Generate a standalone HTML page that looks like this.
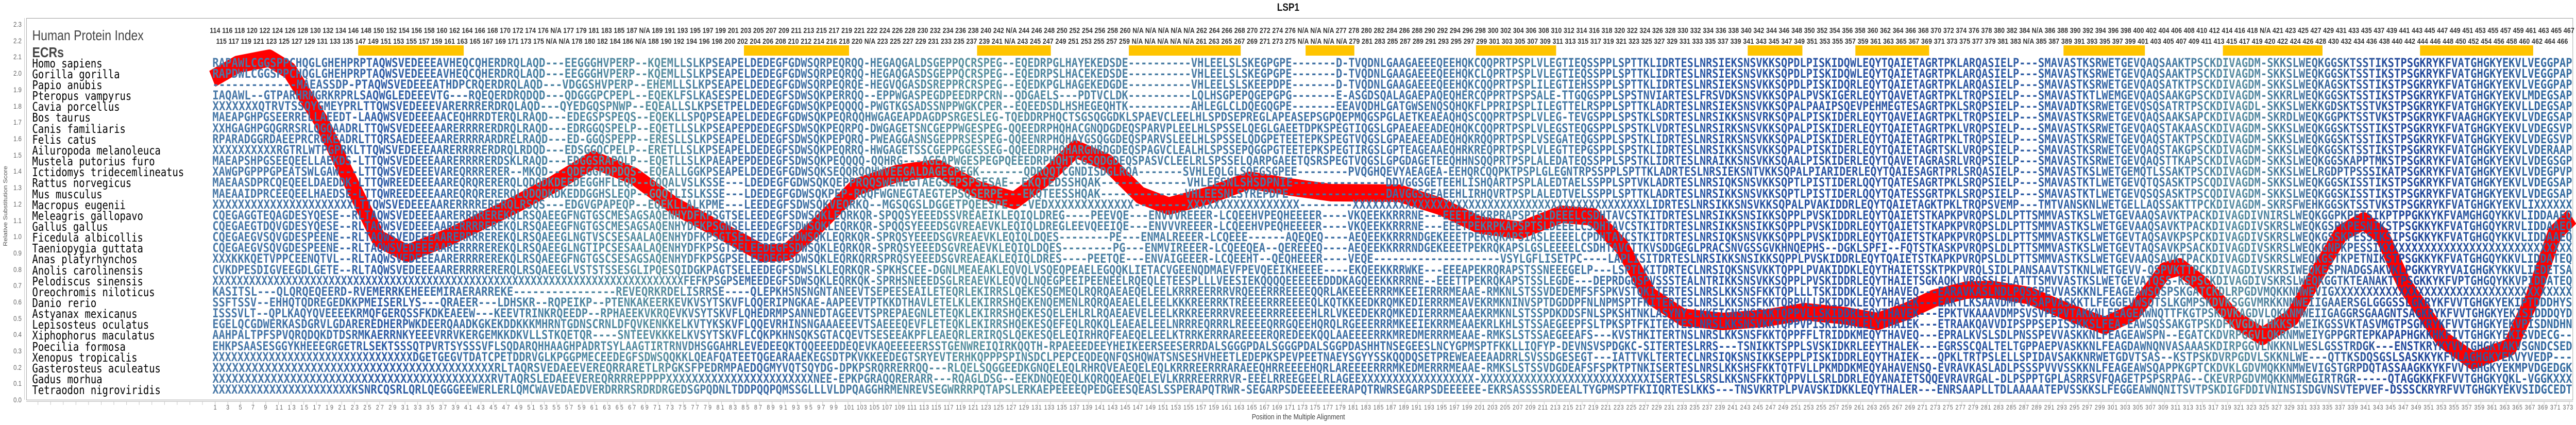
<!DOCTYPE html>
<html><head><meta charset="utf-8"><style>
html,body{margin:0;padding:0;background:#fff;width:100%;height:100%;overflow:hidden;}
svg{display:block;position:absolute;left:0;top:0;width:100%;height:100%;}
</style></head><body>
<svg viewBox="0 0 6077 825" preserveAspectRatio="none" xmlns="http://www.w3.org/2000/svg">
<defs>
<linearGradient id="g" gradientUnits="userSpaceOnUse" x1="501" y1="0" x2="6068" y2="0">
<stop offset="0" stop-color="#4a7aa8"/><stop offset="0.054" stop-color="#3d6da8"/><stop offset="0.072" stop-color="#2f5ca6"/><stop offset="0.14" stop-color="#4a82a3"/><stop offset="0.19" stop-color="#5a90a0"/><stop offset="0.23" stop-color="#3a68a6"/><stop offset="0.32" stop-color="#5a92a0"/><stop offset="0.38" stop-color="#4c80a3"/><stop offset="0.5" stop-color="#3e6ea6"/><stop offset="0.56" stop-color="#4a80a4"/><stop offset="0.63" stop-color="#2b58a5"/><stop offset="0.72" stop-color="#2a52a2"/><stop offset="0.8" stop-color="#3566a6"/><stop offset="0.86" stop-color="#5a8fa2"/><stop offset="0.93" stop-color="#23479c"/><stop offset="1" stop-color="#3870a2"/>
</linearGradient>
<pattern id="xt" x="507" y="0" width="29.86" height="10" patternUnits="userSpaceOnUse"><rect x="0" y="0" width="1" height="6" fill="#bbb"/></pattern>
</defs>
<rect x="0" y="0" width="6077" height="825" fill="#fff"/>
<text x="3039" y="21" text-anchor="middle" font-family="Liberation Sans Narrow, Liberation Sans, sans-serif" font-weight="bold" font-size="21" fill="#111">LSP1</text>
<rect x="62.5" y="35.5" width="6007" height="741" fill="none" stroke="#999" stroke-width="1"/>
<line x1="58" y1="35" x2="58" y2="776" stroke="#bbb" stroke-width="1"/>
<line x1="62" y1="779.5" x2="6070" y2="779.5" stroke="#bbb" stroke-width="1"/>
<rect x="62" y="780" width="6008" height="6" fill="url(#xt)"/>
<g font-family="Liberation Sans Narrow, Liberation Sans, sans-serif" font-size="14" fill="#666" text-anchor="end">
<text x="51" y="52">2.3</text><text x="51" y="84">2.2</text><text x="51" y="115">2.1</text><text x="51" y="147">2.0</text><text x="51" y="179">1.9</text><text x="51" y="211">1.8</text><text x="51" y="242">1.7</text><text x="51" y="274">1.6</text><text x="51" y="306">1.5</text><text x="51" y="337">1.4</text><text x="51" y="369">1.3</text><text x="51" y="401">1.2</text><text x="51" y="433">1.1</text><text x="51" y="464">1.0</text><text x="51" y="496">0.9</text><text x="51" y="528">0.8</text><text x="51" y="559">0.7</text><text x="51" y="591">0.6</text><text x="51" y="623">0.5</text><text x="51" y="654">0.4</text><text x="51" y="686">0.3</text><text x="51" y="718">0.2</text><text x="51" y="749">0.1</text><text x="51" y="781">0.0</text>
</g>
<text transform="translate(17,400) rotate(-90)" text-anchor="middle" font-family="Liberation Sans Narrow, Liberation Sans, sans-serif" font-size="13" fill="#555">Relative Substitution Score</text>
<text x="3063" y="814" text-anchor="middle" font-family="Liberation Sans Narrow, Liberation Sans, sans-serif" font-size="15" fill="#444">Position in the Multiple Alignment</text>
<g fill="#ffc400">
<rect x="845" y="88" width="249" height="20"/><rect x="1755" y="88" width="248" height="20"/><rect x="2305" y="88" width="174" height="20"/><rect x="2663" y="88" width="264" height="20"/><rect x="3080" y="88" width="115" height="20"/><rect x="3482" y="88" width="189" height="20"/><rect x="4123" y="88" width="129" height="20"/><rect x="4377" y="88" width="174" height="20"/><rect x="4868" y="88" width="192" height="20"/><rect x="5244" y="88" width="235" height="20"/><rect x="5709" y="88" width="267" height="20"/>
</g>
<g font-family="Liberation Sans Narrow, Liberation Sans, sans-serif" font-weight="bold" font-size="15" fill="#333">
<text x="495" y="64" textLength="5578" lengthAdjust="spacing">114 116 118 120 122 124 126 128 130 132 134 146 148 150 152 154 156 158 160 162 164 166 168 170 172 174 176 N/A 177 179 181 183 185 187 N/A 189 191 193 195 197 199 201 203 205 207 209 211 213 215 217 219 221 222 224 226 228 230 232 234 236 238 240 242 N/A 244 246 248 250 252 254 256 258 260 N/A N/A N/A N/A N/A 262 264 266 268 270 272 274 276 N/A N/A N/A 277 278 280 282 284 286 288 290 292 294 296 298 300 302 304 306 308 310 312 314 316 318 320 322 324 326 328 330 332 334 336 338 340 342 344 346 348 350 352 354 356 358 360 362 364 366 368 370 372 374 376 378 380 382 384 N/A 386 388 390 392 394 396 398 400 402 404 406 408 410 412 414 416 418 N/A 421 423 425 427 429 431 433 435 437 439 441 443 445 447 449 451 453 455 457 459 461 463 465 467</text>
<text x="510" y="85" textLength="5548" lengthAdjust="spacing">115 117 119 121 123 125 127 129 131 133 135 147 149 151 153 155 157 159 161 163 165 167 169 171 173 175 N/A N/A 178 180 182 184 186 N/A 188 190 192 194 196 198 200 202 204 206 208 210 212 214 216 218 220 N/A 223 225 227 229 231 233 235 237 239 241 N/A 243 245 247 249 251 253 255 257 259 N/A N/A N/A N/A N/A 261 263 265 267 269 271 273 275 N/A N/A N/A N/A 279 281 283 285 287 289 291 293 295 297 299 301 303 305 307 309 311 313 315 317 319 321 323 325 327 329 331 333 335 337 339 341 343 345 347 349 351 353 355 357 359 361 363 365 367 369 371 373 375 377 379 381 383 N/A 385 387 389 391 393 395 397 399 401 403 405 407 409 411 413 415 417 419 420 422 424 426 428 430 432 434 436 438 440 442 444 446 448 450 452 454 456 458 460 462 464 466</text>
</g>
<g font-family="Liberation Sans Narrow, Liberation Sans, sans-serif" font-size="13" fill="#666">
<text x="504" y="795" textLength="126" lengthAdjust="spacing">1 3 5 7 9</text>
<text x="650" y="795" textLength="1326" lengthAdjust="spacing">11 13 15 17 19 21 23 25 27 29 31 33 35 37 39 41 43 45 47 49 51 53 55 57 59 61 63 65 67 69 71 73 75 77 79 81 83 85 87 89 91 93 95 97 99</text>
<text x="1991" y="795" textLength="4079" lengthAdjust="spacing">101 103 105 107 109 111 113 115 117 119 121 123 125 127 129 131 133 135 137 139 141 143 145 147 149 151 153 155 157 159 161 163 165 167 169 171 173 175 177 179 181 183 185 187 189 191 193 195 197 199 201 203 205 207 209 211 213 215 217 219 221 223 225 227 229 231 233 235 237 239 241 243 245 247 249 251 253 255 257 259 261 263 265 267 269 271 273 275 277 279 281 283 285 287 289 291 293 295 297 299 301 303 305 307 309 311 313 315 317 319 321 323 325 327 329 331 333 335 337 339 341 343 345 347 349 351 353 355 357 359 361 363 365 367 369 371 373</text>
</g>
<text x="76" y="78" font-family="Liberation Sans Narrow, Liberation Sans, sans-serif" font-size="28" fill="#444">Human Protein Index</text>
<text x="76" y="111" font-family="Liberation Sans Narrow, Liberation Sans, sans-serif" font-size="28" font-weight="bold" fill="#444">ECRs</text>
<polyline fill="none" stroke="#ff0000" stroke-width="34" stroke-linejoin="round" points="501,153 560,125 635,113 683,137 759,237 836,368 893,463 960,492 1065,458 1209,400 1305,358 1400,310 1496,342 1592,400 1688,442 1800,492 1857,489 1924,442 2020,363 2116,337 2211,326 2307,368 2393,389 2470,342 2537,289 2613,316 2690,379 2757,400 2853,379 2948,350 3044,363 3140,374 3300,375 3396,400 3491,437 3587,447 3683,416 3759,421 3826,479 3893,574 3970,616 4065,624 4161,618 4257,605 4353,613 4429,624 4496,605 4563,579 4640,563 4700,562 4788,574 4877,605 4965,632 5036,605 5107,526 5142,518 5196,553 5275,621 5337,653 5408,616 5470,526 5523,453 5576,429 5620,458 5673,553 5762,658 5833,700 5921,674 5974,579 6027,453 6067,421"/>
<g font-family="DejaVu Sans Mono, Liberation Mono, monospace" font-size="22.9" fill="#000">
<text x="76" y="131">Homo sapiens</text><text x="76" y="152">Gorilla gorilla</text><text x="76" y="173">Papio anubis</text><text x="76" y="194">Pteropus vampyrus</text><text x="76" y="215">Cavia porcellus</text><text x="76" y="236">Bos taurus</text><text x="76" y="258">Canis familiaris</text><text x="76" y="279">Felis catus</text><text x="76" y="300">Ailuropoda melanoleuca</text><text x="76" y="321">Mustela putorius furo</text><text x="76" y="342">Ictidomys tridecemlineatus</text><text x="76" y="363">Rattus norvegicus</text><text x="76" y="385">Mus musculus</text><text x="76" y="406">Macropus eugenii</text><text x="76" y="427">Meleagris gallopavo</text><text x="76" y="448">Gallus gallus</text><text x="76" y="469">Ficedula albicollis</text><text x="76" y="490">Taeniopygia guttata</text><text x="76" y="511">Anas platyrhynchos</text><text x="76" y="533">Anolis carolinensis</text><text x="76" y="554">Pelodiscus sinensis</text><text x="76" y="575">Oreochromis niloticus</text><text x="76" y="596">Danio rerio</text><text x="76" y="617">Astyanax mexicanus</text><text x="76" y="638">Lepisosteus oculatus</text><text x="76" y="659">Xiphophorus maculatus</text><text x="76" y="681">Poecilia formosa</text><text x="76" y="702">Xenopus tropicalis</text><text x="76" y="723">Gasterosteus aculeatus</text><text x="76" y="744">Gadus morhua</text><text x="76" y="765">Tetraodon nigroviridis</text>
</g>
<g font-family="DejaVu Sans Mono, Liberation Mono, monospace" font-weight="bold" font-size="24" fill="url(#g)">
<text x="501" y="130" textLength="1299" lengthAdjust="spacingAndGlyphs">RAPAWLCGGSPPCHQGLGHEHPRPTAQWSVEDEEEAVHEQCQHERDRQLAQD---EEGGGHVPERP--KQEMLLSLKPSEAPELDE</text>
<text x="1800" y="130" textLength="1500" lengthAdjust="spacingAndGlyphs">DEGFGDWSQRPEQRQQ-HEGAQGALDSGEPPQCRSPEG--EQEDRPGLHAYEKEDSDE----------VHLEELSLSKEGPGPE-------D-TVQDNLGA</text>
<text x="3300" y="130" textLength="1493" lengthAdjust="spacingAndGlyphs">AGAEEEQEEHQKCQQPRTPSPLVLEGTIEQSSPPLSPTTKLIDRTESLNRSIEKSNSVKKSQPDLPISKIDQWLEQYTQAIETAGRTPKLARQASIELP--</text>
<text x="4793" y="130" textLength="1275" lengthAdjust="spacingAndGlyphs">-SMAVASTKSRWETGEVQAQSAAKTPSCKDIVAGDM-SKKSLWEQKGGSKTSSTIKSTPSGKRYKFVATGHGKYEKVLVEGGPAP</text>
<text x="501" y="151" textLength="1299" lengthAdjust="spacingAndGlyphs">RAPDWLCGGSPPCHQGLGHEHPRPTAQWSVEDEEEAVHEQCQHERDRQLAQD---EEGGGHVPERP--KQEMLLSLKPSEAPELDE</text>
<text x="1800" y="151" textLength="1500" lengthAdjust="spacingAndGlyphs">DEGFGDWSQRPEQRQQ-HEGAQGASDSGEPPQCRSPEG--EQEDRPSLHACEKEDSDE----------VHLEELSLSKEGPGPE-------D-TVQDNLGA</text>
<text x="3300" y="151" textLength="1493" lengthAdjust="spacingAndGlyphs">AGAEEEQEEHQKCLQPRTPSPLVLEGTIEQSSPPLSPTTKLIDRTESLNRSIEKSNSVKKSQPDLPISKIDQWLEQYTQAIETAGRTPKLARQASIELP--</text>
<text x="4793" y="151" textLength="1275" lengthAdjust="spacingAndGlyphs">-SMAVASTKSRWETGEVQAQSAAKTPSCKDIVAGDM-SKKSLWEQKGGSKTSSTIKSTPSGKRYKFVATGHGKYEKVLVEGGPAP</text>
<text x="501" y="172" textLength="1299" lengthAdjust="spacingAndGlyphs">-------------MAEASSDP-PTAQWSVEDEEEATHDPCRQERDRQLAQD---VDGGSHVPERP--EHEMLLSLKPSEAPELDE</text>
<text x="1800" y="172" textLength="1500" lengthAdjust="spacingAndGlyphs">DEGFGDWSQRPEQRQE-HEGVQGASDSREPPRCRSPEG--EQEDKPGLHAGEKEDGDE----------VHLEELSLSKEEPDPE-------D-TVQDNLGA</text>
<text x="3300" y="172" textLength="1493" lengthAdjust="spacingAndGlyphs">AGAEEEQEEHQKCQQPRTPSPLILEGTIEHSSPPLSPTTKLIDRTESLNRSIEKSNSVKKSQPDLPISKIDQRLEQYTQAIETAGRTPKLARQASIELP--</text>
<text x="4793" y="172" textLength="1275" lengthAdjust="spacingAndGlyphs">-SMAVASTKSRWETGEVQAQSATKTPSCKDIVAGDM-SKKSLWEQKAGSKTSSTIKSTPSGKRYKFVATGHGKYEKVLVEGGPAP</text>
<text x="501" y="193" textLength="1299" lengthAdjust="spacingAndGlyphs">IAQAWL--GTPARHRMGRKRPRLSAQWGLEDEEEVTG---RQEQERDRQDQD---QDGGGPCPEPL--EQEKLFSLKASESPELDE</text>
<text x="1800" y="193" textLength="1500" lengthAdjust="spacingAndGlyphs">DEGFSDWSQKPERRQQ--EPPWGASPEGDPEEDRPCRN--QDGAELS---PDTVCLDK----------LQLHSGPEPQGEPGPG-------E-ASGDSQAL</text>
<text x="3300" y="193" textLength="1493" lengthAdjust="spacingAndGlyphs">AGAEPAQEQHERCQPPRTPSPSALE-TTGQGSPPLSPSTNVIARTESLFRSVDKSNSVKKSQPALPVSKIGERLEQYTQAVETAGRTPKLTRQPSIELP--</text>
<text x="4793" y="193" textLength="1275" lengthAdjust="spacingAndGlyphs">-SMAVASTKTLWEMGEVQAQSAAKGPSCKDIVAGDM-SKKRLWEQKGGSKTSSTIKSTPSGKRYKFVATGHGKYEKVLMDEGSAP</text>
<text x="501" y="214" textLength="1299" lengthAdjust="spacingAndGlyphs">XXXXXXXQTRVTSSQYGMEYPRLTTQWSVEDEEEVARERRRERDRQLAQD---QYEDGQSPNWP--EQEALLSLKPSETPELDE</text>
<text x="1800" y="214" textLength="1500" lengthAdjust="spacingAndGlyphs">DEGFGDWSQKPEQQQQ-PWGTKGSADSSNPPWGKCPER--EQEEDSDLHSHEGEQHTK----------AHLEGLCLDQEGQGPE-------EEAVQDHLGA</text>
<text x="3300" y="214" textLength="1493" lengthAdjust="spacingAndGlyphs">TGWSENQSQHQKFLPPRIPSPLILEGTTELRSPPLSPTTKLADRTESLNRSIEKSNSVKKSQPALPAAIPSQEVPEHMEGTESAGRTPKLSRQPSIELP--</text>
<text x="4793" y="214" textLength="1275" lengthAdjust="spacingAndGlyphs">-SMAVADTKSRWETGEVQSQSATRTPSCKDIVAGDL-SKKSLWEKKGDSKTSSTVKSTPSGKRYKFVATGHGKYEKVLLDEGSAP</text>
<text x="501" y="235" textLength="1299" lengthAdjust="spacingAndGlyphs">MAEAPGHPGSEERRELLAEEDT-LAAQWSVEDEEEAACEQHRRDTERQLRAQD---EDEGSPSPEQS--EQEKLLSPQPSEAPELDE</text>
<text x="1800" y="235" textLength="1500" lengthAdjust="spacingAndGlyphs">DEGFGDWSQKPEQRQQHWGAGEAPDAGDPSRGESLEG-TQEDDRPHQCTSGSQGGDKLSPAEVCLEELHLSPDSEPREGLAPEASEPSGPQEPMQGSPGL</text>
<text x="3300" y="235" textLength="1493" lengthAdjust="spacingAndGlyphs">AETKEAEAQHQSCQQPRTPSPLVLEG-TEVGSPPLSPSTKLSDRTESLNRSIKKSNSVRKSQPALPISKIDERLEQYTQAVEIAGRTPKLTRQPSIELP--</text>
<text x="4793" y="235" textLength="1275" lengthAdjust="spacingAndGlyphs">-SMAVASTKSRWETGEVQAQSAAKSAPCKDIVAGDM-SKRDLWEQKGGPKTSSTVKSTPSGKRYKFVAAGHGKYEKVLVDEGSAP</text>
<text x="501" y="257" textLength="1299" lengthAdjust="spacingAndGlyphs">XXHGAGHPGQGRRSRLQGQAADRLTTQWSVEDEEEAARERRRRERDRQLRAQD---EDRGGQSPELP--EQETLLSLKPSEAPEPDE</text>
<text x="1800" y="257" textLength="1500" lengthAdjust="spacingAndGlyphs">DEGFSDWSQKPEQRPQ-DWGAGETSNCGEPPWGESPEG-QQEEDRPHQHACGNQDGDEQSPARVPLEELHLSPSSELQEGLGAEETDPKSPEGTIQGSLGP</text>
<text x="3300" y="257" textLength="1493" lengthAdjust="spacingAndGlyphs">AEAEEADEQHQKCQQPRTPSPLVLEGSTEQGSPPLSPSTKLVDRTESLNRSIRKSNSVKKSQPALPISKIDERLEQYTQAIETAGRTPKLVRQPSIELP--</text>
<text x="4793" y="257" textLength="1275" lengthAdjust="spacingAndGlyphs">-SMAVASTKSRWETGEVQAQSTAKAASCKDIVAGDM-SKKSLWEQKGGSKTSSTIKSTPSGKRYKFVATGHGKYEKVLVDEGSVP</text>
<text x="501" y="278" textLength="1299" lengthAdjust="spacingAndGlyphs">RPARADGGRDAEEPRCRGKEADRLTTQRSAEDEEEAARERRRRARDRELRAQD---ED-GGQSPEPP--ERESLLSLKPSEAPELDE</text>
<text x="1800" y="278" textLength="1500" lengthAdjust="spacingAndGlyphs">DEGFSDWSQKPEPQRQ-PWEAGGASNSGEPPRSESPEG-QQEENRPHQHAYGSQGGDEQSPARVSLEELHLSPSSELQDGPETEETEPKSPEGTVQGSLGP</text>
<text x="3300" y="278" textLength="1493" lengthAdjust="spacingAndGlyphs">AEAEEADEQHQKRQQPRTPSPLVSEGATEQGSPPLSPSTKLIDRTESLNRSIRKSNSVKKSQPALPISKIDERLEQYTQAIETAGRTPKLTRQPSIELP--</text>
<text x="4793" y="278" textLength="1275" lengthAdjust="spacingAndGlyphs">-SMAVASTKSRWETGEVQAQSTAKTPSCKDIVAGDM-SKKSLWEQKGGSKTSSTIKSTPSGKRYKFVATGHGKYEKVLVDEGSVP</text>
<text x="501" y="299" textLength="1299" lengthAdjust="spacingAndGlyphs">XXXXXXXXXXRGTRLWTPGPRKLTTQWSVEDEEEAARERRRRERDRQLRDQD---EDSGGQCPELP--ERETLLSLKPSEAPELDE</text>
<text x="1800" y="299" textLength="1500" lengthAdjust="spacingAndGlyphs">DEGFSDWSQKPEQRRQ-HWGAGETSSCGEPPGGESSEG-QQEEDRPHQHARGNRDGDEQSPAGVCLEALHLSPSSEPQGGPGTEETEPKSPEGTIRGSLGP</text>
<text x="3300" y="299" textLength="1493" lengthAdjust="spacingAndGlyphs">TEAGEAAEQHRKREQPRTPSPLVLEGTTEPGSPPLSPSTKLIDRTESLNRSIKKSNSVKKSQPALPISKIDERLEQYTQAIETAGRTSKLVRQPSIELP--</text>
<text x="4793" y="299" textLength="1275" lengthAdjust="spacingAndGlyphs">-SMAVASTKSRWETGEVQAQSTAKGPSCKDIVAGDM-SKKSLWEQKGGSKTSSTIKSTPSGKRYKFVATGHGKYEKVLVDERAAP</text>
<text x="501" y="320" textLength="1299" lengthAdjust="spacingAndGlyphs">MAEAPSHPGSEEQEELLAEKDS-LTTQWSVEDEEEAARERRRRERDSKLRAQD---EDGGSRAPQLP--EQETLLSLKPAEAPEPDE</text>
<text x="1800" y="320" textLength="1500" lengthAdjust="spacingAndGlyphs">DEGFSDWSQKPEQQQQ-QQHRG---AGEAPWGESPEGPQEEEDRPHQHTCGSQDGDEQSPASVCLEELRLSPSSELQARPGAEETQSRSPEGTVQGSLGP</text>
<text x="3300" y="320" textLength="1493" lengthAdjust="spacingAndGlyphs">GDAGETEEQHHNSQQPRTPSPLALEDATEQSSPPLSPSTKLIDRTESLNRAIKKSNSVKKSQAALPISKIDERLEQYTQAVETAGRASRLVRQPSIELP--</text>
<text x="4793" y="320" textLength="1275" lengthAdjust="spacingAndGlyphs">-SMAVASTKSRWETGEVQAQSTTKAPSCKDIVAGDM-SKKSLWEQKGGSKAPPTMKSTPSGKRYKFVATGHGKYEKVLVDEGSGP</text>
<text x="501" y="341" textLength="1299" lengthAdjust="spacingAndGlyphs">XAWGPGPPPGPEATSWLGAW---LTTQWSVEDEEEVAREQRRRERER--MKQD---QDEGGPDPDQS--EQEALLGGKPSEAPELDE</text>
<text x="1800" y="341" textLength="1500" lengthAdjust="spacingAndGlyphs">DEGFGDWSQKSEQQRQQHWVEEGALDAGEGPEGK-------QDRQQTCGNDISDGLRQA-------SVHLEQLGLSQEGSGPEE--------PVQGHQEV</text>
<text x="3300" y="341" textLength="1493" lengthAdjust="spacingAndGlyphs">YAEAGEA-EEHQRCQQPKTPSPLGLEGNTRPSSPPLSPTTKLADRTESLNRSIEKSNTVKKSQPALPIARIDERLEQYTQAIESAGRTPRLSRQASIELP--</text>
<text x="4793" y="341" textLength="1275" lengthAdjust="spacingAndGlyphs">-SMAVASTKSLWETGEMQTLSSAKTPSCKDIVAGDM-SKKSLWELRGDPTPSSSIKATPSGKRYKFVATGHGKYEKVLVDEGPVP</text>
<text x="501" y="362" textLength="1299" lengthAdjust="spacingAndGlyphs">MAEAASDPRCQEQEELDAEDDK-LTTQWREEDEEEAAREQRQRERERQLQDQDKDEEDEGGHFLEQP--GQQALVSLKSSE---LDE</text>
<text x="1800" y="362" textLength="1500" lengthAdjust="spacingAndGlyphs">DEGFGDWSQKQEPPRQQSWENEGTAEGSEPSPSESAE--EKQTEDSSHQAK-------------VHLEESNLSHSDPNIE--------------DD</text>
<text x="3300" y="362" textLength="1493" lengthAdjust="spacingAndGlyphs">VGGSGETEEHLISHQARTPSPLALEDTAELSSPPLSPTVKLADRTESLNRSIQKSNSVKKSQPTLPISTIDERLQQYTQATESAGRTPKLSRQPSIELP--</text>
<text x="4793" y="362" textLength="1275" lengthAdjust="spacingAndGlyphs">-SMAVASTKTLWETGEVQTQSASKTPSCQDIVAGDM-SKKSLWEQKGGSKISSTIKSTPSGKRYKFVATGHGKYEKVLVDEGSAP</text>
<text x="501" y="384" textLength="1299" lengthAdjust="spacingAndGlyphs">MAEAAIDPRCEEQEELHAEDSE-LTTQWREEDEEEAAREQRQRERERQLQDQDKDKEDDGGHSLEQP--GQQTLISLKSSE---LDE</text>
<text x="1800" y="384" textLength="1500" lengthAdjust="spacingAndGlyphs">DEGFGDWSQKPEP-RQQFWGNEGTAEGTEPSQSERPE---EKQTEESSHQAK-------------VHLEESNLSYREPDPE---------------DA</text>
<text x="3300" y="384" textLength="1493" lengthAdjust="spacingAndGlyphs">VGGSGEAEEHLIRHQVRTPSPLALEDTVELSSPPLSPTTKLADRTESLNRSIKKSNSVKKSQPTLPISTIDERLQQYTQATESSGRTPKLSRQPSIELP--</text>
<text x="4793" y="384" textLength="1275" lengthAdjust="spacingAndGlyphs">-SMAVASTKTLWETGEVQSQSASKTPSCQDIVAGDM-SKKSLWEQKGGSKISSTIKSTPSGKRYKFVATGHGKYEKVLVDEGSAP</text>
<text x="501" y="405" textLength="1299" lengthAdjust="spacingAndGlyphs">XXXXXXXXXXXXXXXXXXXXXXLTTQWSVEDEEEAARERRRRERERQLRSQS---EDGVGPAPEQP--EQEKLLALKPME---LEE</text>
<text x="1800" y="405" textLength="1500" lengthAdjust="spacingAndGlyphs">DEGFSDWSQKVEQRKQ--MGSQGSLDGGETPQEESPE---VEDXXXXXXXXXXXXX--------XXXXXXXXXXXXXXXXX--------XXXXXXX</text>
<text x="3300" y="405" textLength="1493" lengthAdjust="spacingAndGlyphs">XXXXXXXXXXXXXXXXXXXXXXXXXXXXXXXXXXXXXXXLIDRTESLNRSIKKSNSVKKSQPALPVAKIDDRLEQYTQAIETAGKTPKLTRQPSVEMP--</text>
<text x="4793" y="405" textLength="1275" lengthAdjust="spacingAndGlyphs">-TMTVANSKNLWETGELLAQSSAKTTPCKDIVAGDM-SKRSFWEHKGGSKTSSTVKSTPSGKRYKFVATGHGKYEKVLIXXXXXX</text>
<text x="501" y="426" textLength="1299" lengthAdjust="spacingAndGlyphs">CQEGAGGTEQAGDESYQESE--RLTAQWSVEDEEEAARERRRREREKQLRSQAEEGFNGTGSCMESAGSAQENHYDFKPSGTSELEE</text>
<text x="1800" y="426" textLength="1500" lengthAdjust="spacingAndGlyphs">DEGFSDWSQKLEQRKQR-SPQQSYEEEDSSVREAEIKLEQIQLDREG----PEEVQE---ENVVVREEER-LCQEEHVPEQHEEEER----VKQEEKKR</text>
<text x="3300" y="426" textLength="1493" lengthAdjust="spacingAndGlyphs">RRNE---EEETPEKRPRAPSPTSLDEEELCSDHTAVCSTKITDRTESLNRSIKKSNSIKKSQPPLPVSKIDDRLEQYTQAIETSTKAPKPVRQPSLDLPTT</text>
<text x="4793" y="426" textLength="1275" lengthAdjust="spacingAndGlyphs">SMMVASTKSLWETGEVAAQSAVKTPACKDIVAGDIVNIRSLWEQKGGPKPETSIKPTPPGKKYKFVAMGHGQYKKVLIDDAAEQ</text>
<text x="501" y="447" textLength="1299" lengthAdjust="spacingAndGlyphs">CQEGAEGTDQVGDESYQESE--RLTAQWSVEDEEEAARERRRREREKQLRSQAEEGFNGTGSCMESAGSAQENHYDFKPSGNSELEE</text>
<text x="1800" y="447" textLength="1500" lengthAdjust="spacingAndGlyphs">DEGFSDWSQKLEQRKQR-SPQQSYEEEDSGVREAEVKLEQIQLDREGLEEVQEEIQE---ENVVVREEER-LCQEEHVPEQHEEEER----VKQEEKKR</text>
<text x="3300" y="447" textLength="1493" lengthAdjust="spacingAndGlyphs">RRNE---EEETPEKRPKAPSPTSLDEEELCSDHTAVCSTKITDRTESLNRSIKKSNSIKKSQPPLPVSKIDDRLEQYTQAIETSTKAPKPVRQPSLDLPTT</text>
<text x="4793" y="447" textLength="1275" lengthAdjust="spacingAndGlyphs">SMMVASTKSLWETGEVAAQSAVKTPACKDIVAGDIVSKRSLWEQKGSPKPESNIKSTPSGKKYKFVATGHGQYKRVLIDDAAEQ</text>
<text x="501" y="468" textLength="1299" lengthAdjust="spacingAndGlyphs">CQEGAEGVSQVGDESPEENE--RLTAQWSVEDEEEAARERRRREREKQLRSQAEEGLNGTVSCSESAALAQENHYDFKPSGTSELEE</text>
<text x="1800" y="468" textLength="1500" lengthAdjust="spacingAndGlyphs">DEGFSDWSQKLEQRKQR-SPRQSYEEEDSGVREAEVKLEQIQLDQES--------PE---ENMALREEER-LCQEEE------AQEQEQ----AEQEEKKR</text>
<text x="3300" y="468" textLength="1493" lengthAdjust="spacingAndGlyphs">RRNDGEKEEETPEKRQKAPSIASLEEEELCPDHTAVCSTKITDRTESLNRSIQKSNSVKKSQPPLPVSKIDDRLEQYTQAIETSTKAPKPVRQPSLDLPTT</text>
<text x="4793" y="468" textLength="1275" lengthAdjust="spacingAndGlyphs">SMMVASTKSLWETGEVTAQSAVKPSPCKDIVAGDIVSKRSLWEQKGSSKPESSIKSIPSGKKYKFVATGHGQYKKVLIDDAAEQ</text>
<text x="501" y="489" textLength="1299" lengthAdjust="spacingAndGlyphs">CQEGAEGVSQVGDESPEENE--RLTAQWSVEDEEEAARERRRREREKQLRSQAEEGLNGTIPCSESAALAQENHYDFKPSGTSELEE</text>
<text x="1800" y="489" textLength="1500" lengthAdjust="spacingAndGlyphs">DEGFSDWSQKLEQRKQR-SPRQSYEEEDSGVREAEVKLEQIQLDQES--------PG---ENMVIREEER-LCQEEQEA--QEREEEQ----AEQEEKKR</text>
<text x="3300" y="489" textLength="1493" lengthAdjust="spacingAndGlyphs">RRNDGEKEEETPEKRQKAPSLGSLEEEELCSDHTAVCTTKVSDDGEGLPRACSNVGSSGVKHNQEPHS--DGKLSPFI--FQTSTKASKPVRQPSLDLPTT</text>
<text x="4793" y="489" textLength="1275" lengthAdjust="spacingAndGlyphs">SMMVASTKSLWETGEVTAQSAVKPSACKDIVAGDIVSKRSLWEQKGNPKPESSIKXXXXXXXXXXXXXXXXXXXXXXXXXXXXX</text>
<text x="501" y="510" textLength="1299" lengthAdjust="spacingAndGlyphs">XXXKKKQETVPPCEENQTVL--RLTAQWSVEDEEEAARERRRREREKQLRSQAEEGFNGTGSCSESAGSAQENHYDFKPSGPSELEE</text>
<text x="1800" y="510" textLength="1500" lengthAdjust="spacingAndGlyphs">DEGFSDWSQKLEQRKQRRSPRQSYEEEDSGVREAEAKLEQIQLDRES----PEETQE---ENVAIGEEER-LCQEEHT--QEQHEEER----VEQE----</text>
<text x="3300" y="510" textLength="1493" lengthAdjust="spacingAndGlyphs">----------------VSYLGFLISETPC----LAPLISITDRTESLNRSIKKSNSIKKSQPPLPVSKIDDRLEQYTQAIETSTKAPKPVRQPSLDLPTT</text>
<text x="4793" y="510" textLength="1275" lengthAdjust="spacingAndGlyphs">SMMVASTKSLWETGEVAAQSAVKTPACKDIVAGDIVSKRSLWEQKGSTKPETNIKSTPSGKKYKFVATGHGQYKKVLIDDATEQ</text>
<text x="501" y="532" textLength="1299" lengthAdjust="spacingAndGlyphs">CVKDPESDIGVEEGDLGETE--RLTAQWSVEDEEEAARERRRRERERQLRSQAEEGLVSTSTSSESGLIPQESQIDGKPAGTSELEE</text>
<text x="1800" y="532" textLength="1500" lengthAdjust="spacingAndGlyphs">DEGFSDWSLKLEQRKQR-SPKHSCEE-DGNLMEAEAKLEQVQLVSQEQPEAELEGQQKLIETACVGEENQDMAEVFPEVQEEIKHEEEE----EKQEEKKR</text>
<text x="3300" y="532" textLength="1493" lengthAdjust="spacingAndGlyphs">RWKE---EEEAPEKRQRAPSTSSNEEEGELP---LSPTLKITDRTECLNRSIQKSNSVKKTQPPLPVAKIDDKLEQYTHAIETSSKTPKPVRQLSIDLPAN</text>
<text x="4793" y="532" textLength="1275" lengthAdjust="spacingAndGlyphs">SAAVTSTKNLWETGEVV-QSPVKTTPCKDIVAGDIVSKRSIWEQKESPNADGSAKVKLPGKKYRYVAIGHGKYKKVLIEDETSA</text>
<text x="501" y="553" textLength="1299" lengthAdjust="spacingAndGlyphs">XXXXXXXXXXXXXXXXXXXXXXXXXXXXXXXXXXXXXXXXXXXXXXXXXXXXXXXXXXXXXXXXXXXXXXXXXXXXXFEFKPSGPSEMEE</text>
<text x="1800" y="553" textLength="1500" lengthAdjust="spacingAndGlyphs">DEGFSDWSQKLEQRKQK-SPRHSNEEEDSGLREAEVKLEQVQLNQEGPEEIPEENEELRQEQLETEESPLLLVEESIEKQQQQEEEEEEDDDKAGQEEKKR</text>
<text x="3300" y="553" textLength="1493" lengthAdjust="spacingAndGlyphs">RRNE--EEETTPEKRQKAPSTSSLEGDE---DEPRDGQSPVSSSTEALNTRIKKSNSVKKSQPPLPVSKIDDRLEQYTHAIETSGKAQKLVRQSSLELATT</text>
<text x="4793" y="553" textLength="1275" lengthAdjust="spacingAndGlyphs">TSMVVASTKSLWETGEVATQSS-KSPSCKDIVAGDIVSKRSLWEQKGGTKTEANAKTTPSGKKYKFVPTGHGQYKKVPIDDATEQ</text>
<text x="501" y="574" textLength="1299" lengthAdjust="spacingAndGlyphs">KASITSL---QLQRQEQEERD-RVEMERRKEHEEEMIRAERARREKE----------------REVEQRKRDELISRRSE----QL</text>
<text x="1800" y="574" textLength="1500" lengthAdjust="spacingAndGlyphs">EPKHSNSNGNTANEEVTSEPEESEAILETEQRLEKIRRSLQEKESQEMEQLRQRQAEAEQELEELKRRREERRRVRQEEERRREEEEQQRLAKEEEERRRM</text>
<text x="3300" y="574" textLength="1493" lengthAdjust="spacingAndGlyphs">KEEIERRRMEAAE-RMKNLSTSSVDEDEMFSFSPKVSTQKITERTESLNRSLKKSNSFKKTQPLLLTSKIDDKLEQYAHAVEQ---EARAVKASLNDLPQS</text>
<text x="4793" y="574" textLength="1275" lengthAdjust="spacingAndGlyphs">SPEVVASKKNLFEAGEAWSQSPSKGATCKDLRPGDVMQKKNMWEVIGXXXXXXXXXXXXXXXXXXXXXXXXXXXXXXXXXXXXX</text>
<text x="501" y="595" textLength="1299" lengthAdjust="spacingAndGlyphs">SSFTSSV--EHHQTQDREGEDKKPMEISERLYS---QRAEER---LDHSKR--RQPEIKP--PTENKAKEERKEVKVSYTSKVFLQQ</text>
<text x="1800" y="595" textLength="1500" lengthAdjust="spacingAndGlyphs">ERIPNGKAE-AAPEEVTPTKKDTHAVLETELKLEKIRRSHQEKENQEMENLRQRQAEAELELEELKKKREERRKTREEEERRREEEEQLKQTKKEEDKRQM</text>
<text x="3300" y="595" textLength="1493" lengthAdjust="spacingAndGlyphs">KEDIERRRMEAVEKRMKNINVSPTDGDDPFNLNPMSPTFKITERTESLNRSLKKSNSFKKTQRPVLLPKIDDKLEQYTHAIEK---EAKTLKSAAVDMPCV</text>
<text x="4793" y="595" textLength="1275" lengthAdjust="spacingAndGlyphs">SAPVASKKTLFEGGEVWSQTSLKGMPSKDVKSGGVMRKKNMWEIIGAAERSGLGGGSSLGKRYKFVVTGHGKYEKIPTDDDHYS</text>
<text x="501" y="616" textLength="1299" lengthAdjust="spacingAndGlyphs">ISSSVLT--QPLKAQYQVEEEEKRMQFGERQSSFKDKEAEEW---KEEVTRINKRQEEDP--RPHAEEKVKRQEVKVSYTSKVFLQHE</text>
<text x="1800" y="616" textLength="1500" lengthAdjust="spacingAndGlyphs">DRMPSANNEDTAGEEVTSPREPAEGNLETEQKLEKIRRSHQEKESQELEHLRLRQAEAEVELEELKRKREERRRVREEEERRREEEEHLRLVKEEDEKRQM</text>
<text x="3300" y="616" textLength="1493" lengthAdjust="spacingAndGlyphs">KEDIERRRMEAAEKRMKNLSTSSPDKDDSFNLSPKSHTNKLASYNY-LKKEIGNSNSFKKTQPPVLLSKIDDRLEQYTHAVEK---EPKTVKAAAVDMPSV</text>
<text x="4793" y="616" textLength="1275" lengthAdjust="spacingAndGlyphs">SVPEPVTAKKNLFEAGEAWNQTTFKGTPSKDVKAGDVLQKKNMWEIIGAGGRSGAAGNTSAGKRYKFVVTGHGKYEKISIDDDQYD</text>
<text x="501" y="637" textLength="1299" lengthAdjust="spacingAndGlyphs">EGELQCGDWERKASDGRVLGDAREREDHERPWKDEERQAADKGKEKDDKKKMHRNTGDNSCRNLDFQVKENKKELKVTYKSKVFLQQ</text>
<text x="1800" y="637" textLength="1500" lengthAdjust="spacingAndGlyphs">EVRHINSNGAAAEEEVTSAEEEQEVFLETEQKLEKIRRSHQEKESQEFEQLRQKQLEAEAELEELNRRREQRRRLREEEEQRRGQEEHQRQLRGEEERRRM</text>
<text x="3300" y="637" textLength="1493" lengthAdjust="spacingAndGlyphs">KEEIEKRRMEAAEKRLKHLSTSSAEGEEPFSLTPKSPTFKITERTESLNRSLKKSNSVKKTQPPVPISKIDDRLELYTHAIEK---ETRAAKQAVVDIPSP</text>
<text x="4793" y="637" textLength="1275" lengthAdjust="spacingAndGlyphs">PSEPISSKKSLFEA-EAWSQSSAKGTPSKDFKVGDVLHKKSLWEIKGSSVKTASVMGTPSGKRYKFVVTGHGKYEKVPISDNDHN</text>
<text x="501" y="658" textLength="1299" lengthAdjust="spacingAndGlyphs">AAHPALTPFSPVQRQDQKDTDSRMKAERRNKYEEEVRRVKERGEMKKDKVLLSTKQETQR----SNTEEVKKKELKVSYTSKVFLCQ</text>
<text x="1800" y="658" textLength="1500" lengthAdjust="spacingAndGlyphs">KPKHNSQKSGTACQEVTSESEEAKPFLEAEQRLERIRQSLQEKESQELEQIRHRQFEAEQELEELKTRRKERRRAREEEERQREDEEKQQLAAEEEERRKM</text>
<text x="3300" y="658" textLength="1493" lengthAdjust="spacingAndGlyphs">REDMERRRMEAAE-RMKSLSTSSAEGEEAFS---KVSTHKITERTNSLNRSLKKSNSFKKTQPPFFLTRIDDKMEQYTHAVEQ---EPRALKVSLSDLPNS</text>
<text x="4793" y="658" textLength="1275" lengthAdjust="spacingAndGlyphs">SPEVVASKKNLFEAGEAWSPN--EGATCKDVRPGGVLQKRNMWEIYGPPGRTEPKAPAPHGKKHKFIVTGHGKYEKISVDECG--</text>
<text x="501" y="680" textLength="1299" lengthAdjust="spacingAndGlyphs">EHKPSAASESGGYKHEEEGRGETRLSEKTSSSQTPVRTSYSSSVFLSQDARQHHAAGHPADRTSYLAAGTIRTRNVDHSGGAHRLEVE</text>
<text x="1800" y="680" textLength="1500" lengthAdjust="spacingAndGlyphs">DEEQKTQQEEEDDEQEVKAQEEEEERSSTGENWREIQIRKQQTH-RPAEEEDEEYHEIKEERSEESERRDALSGGGPDALSGGGPDALSGGPDASHHTNS</text>
<text x="3300" y="680" textLength="1493" lengthAdjust="spacingAndGlyphs">EGEESLNCYGPMSPTFKKLLIQFYP-DEVNSVSPDGKC-SITERTESLRRS---TSNIKKTSPPLSVSKIDKRLEEYTHALEK---EGRSSCQALTELTGP</text>
<text x="4793" y="680" textLength="1275" lengthAdjust="spacingAndGlyphs">PAEPVASKKNLFEAGDAWNQNVASAAASKDIRPGGVLNKKNLWESLGSSTRDGK---ENSTKRYKYVVTGHGKYAKVSGNDCSED</text>
<text x="501" y="701" textLength="1299" lengthAdjust="spacingAndGlyphs">XXXXXXXXXXXXXXXXXXXXXXXXXXXXXXXXDGETGEGVTDATCPETDDRVGLKPGGPMECEEDEGFSDWSQQKKLQEAFQATEETQ</text>
<text x="1800" y="701" textLength="1500" lengthAdjust="spacingAndGlyphs">GEARAAEKEGSDTPKVKKEEDEGTSRYEVTERHKQPPPSPINSDCLPEPCEQDEQNFQSHQWATSNSESHVHEETLEDEPKSPEVPEETNAEYSGYYSSKQ</text>
<text x="3300" y="701" textLength="1493" lengthAdjust="spacingAndGlyphs">QDQSETPREWEAEEAADRRLSVSSDGESEGT---IATTVKLTERTECLNRSIQKSNSIKKSEPPLPISKIDDRLEQYTHAIEK---QPKLTRTPSLELLSP</text>
<text x="4793" y="701" textLength="1275" lengthAdjust="spacingAndGlyphs">IDAVSAKKNRWETGDVTSAS--KSTPSKDVRPGDVLSKKNLWE---QTTKSDQSGSLSASKKYKFVLAGHGKYEKVYVEDP---</text>
<text x="501" y="722" textLength="1299" lengthAdjust="spacingAndGlyphs">XXXXXXXXXXXXXXXXXXXXXXXXXXXXXXXXXXXXXXXXXXXRLTAQRSVEDAEEVEREQRRARETLRPGKSFPEDRMPAEDQ</text>
<text x="1800" y="722" textLength="1500" lengthAdjust="spacingAndGlyphs">GMYVQTSQYDG-DPKPSRQRRERRQQ---RLQELSQGGEEDKGNQELEQLRHRQVEAEQELEQLKRRREERRRARAEEQHRREEEEHQRLAREEEERRRM</text>
<text x="3300" y="722" textLength="1493" lengthAdjust="spacingAndGlyphs">KEDMERRRMEAAE-RMKSLSTSSVDGDEAFSFSPKTPTNKISERTESLNRSLKKSHSFKKTQTFVLLPKMDDKMEQYAHAVENSQ-EVRAVKASLADLPSS</text>
<text x="4793" y="722" textLength="1275" lengthAdjust="spacingAndGlyphs">SPVVVSSKKNLFEAGEAWSQAPPKGPTCKDVKLGDVMQKKNMWEVIGSTGRPDQTASSAAGKKYKFVVTGHGKYEKMPVDGEDGK</text>
<text x="501" y="743" textLength="1299" lengthAdjust="spacingAndGlyphs">XXXXXXXXXXXXXXXXXXXXXXXXXXXXXXXXXXXXXXXXXXXRVTAQRSLEDAEEVEREQRRRREPPPPXXXXXXXXXXXXXXX</text>
<text x="1800" y="743" textLength="1500" lengthAdjust="spacingAndGlyphs">XXXXXXXXNEE-EPKPGRAQQRERARR---RQAGLDSG--EEKDNQEQEQLKQRQQEAEQELEVLKRRREERRRVR-EEELRREEGEELRLAGEEXXXXXX</text>
<text x="3300" y="743" textLength="1493" lengthAdjust="spacingAndGlyphs">XXXXXXXXXXXX-XXXXXXXXXXXXXXXXXXXXXXXXXXXISERTESLSRSLKKSNSFKKTQPPVLLSRLDDRLEQYANAIETSQQEVRAVRGAL-DLPSP</text>
<text x="4793" y="743" textLength="1275" lengthAdjust="spacingAndGlyphs">PTGPLASRRSVFQAGETPSPSRPAG--CKEVRPGDVMQKKNMWEGIRTRGR-----QTAGGKKFKFVVTGHGKYQKL-VGGKXXX</text>
<text x="501" y="764" textLength="1299" lengthAdjust="spacingAndGlyphs">XXXXXXXXXXXXXXXXXXXXXXKSNRCQSRLQRLQEGGGEEWERLERLQMCWAVEDAEDVERDRRRSRDRDRGEDSGPQDNLTDDPQ</text>
<text x="1800" y="764" textLength="1500" lengthAdjust="spacingAndGlyphs">QPQMSSGLLLVLDPQAGGHRMENREVSEGWRRRPQTAPSLERKAEPEEEEQPEDGEESQEASLSSPERAPQTRWR-SEGARPSDEEEEEEERAPQTRWRS</text>
<text x="3300" y="764" textLength="1493" lengthAdjust="spacingAndGlyphs">EGARPSDEEEEEE-EKRSASSSSRDEEALTYGPMSPTFKIIQRTESLKKS---TNSVKRTPLPVAVSKIDKKLEQYTHALER---ENRSAAPLLTDLAAA</text>
<text x="4793" y="764" textLength="1275" lengthAdjust="spacingAndGlyphs">AATEPVSSKKSLFEGGEAWNQNITSVTPSKDIGFDDIVNINSISDGVNSVTEPVEF-DSSSCKRYRFVVTGHGKYEKVSIDGCEDT</text>
</g>
</svg>
</body></html>
